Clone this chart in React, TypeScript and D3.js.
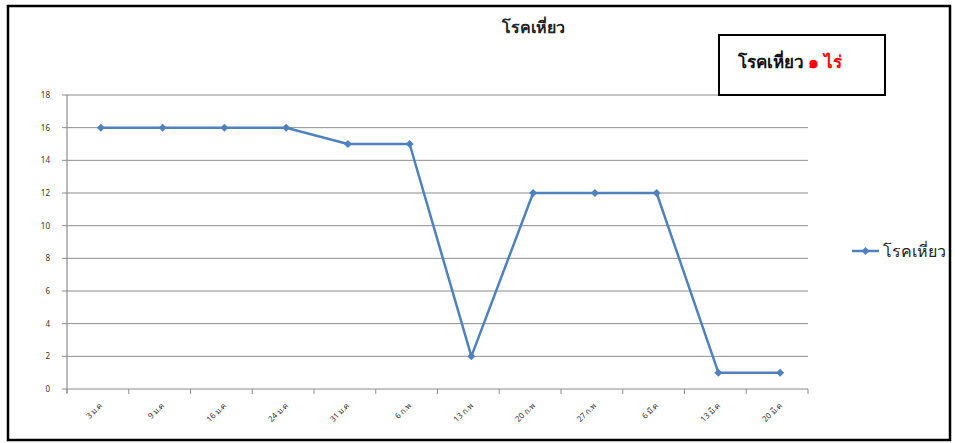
import React from "react";
import * as d3 from "d3";

const categories = ["3 ม.ค", "9 ม.ค", "16 ม.ค", "24 ม.ค", "31 ม.ค", "6 ก.พ", "13 ก.พ", "20 ก.พ", "27 ก.พ", "6 มี.ค", "13 มี.ค", "20 มี.ค"];
const values = [16, 16, 16, 16, 15, 15, 2, 12, 12, 12, 1, 1];
const yTicks = [0, 2, 4, 6, 8, 10, 12, 14, 16, 18];
const seriesName = "โรคเหี่ยว";

const W = 955;
const H = 443;
const plot = { left: 67, right: 808, top: 95, bottom: 389 };
const blue = "#4f81bd";

export default function App() {
  const x = d3.scaleBand().domain(categories).range([plot.left, plot.right]);
  const y = d3.scaleLinear().domain([0, 18]).range([plot.bottom, plot.top]);
  const cx = (c: string) => (x(c) as number) + x.bandwidth() / 2 + 3;
  const line = d3
    .line<number>()
    .x((_, i) => cx(categories[i]))
    .y((d) => y(d));
  // square turned 45deg, like the office diamond marker
  const marker = d3.symbol().type(d3.symbolSquare).size(32)();
  const tickXs = categories.map((c) => x(c) as number).concat([plot.right]);

  return (
    <svg width={W} height={H} style={{ position: "absolute", left: 0, top: 0 }} fontFamily="'Noto Sans', 'DejaVu Sans', sans-serif">
      <rect x={0} y={0} width={W} height={H} fill="#fff" />
      <rect x={8} y={6} width={942} height={434} fill="#fff" stroke="#000" strokeWidth={2.5} />

      <text x={533} y={33} textAnchor="middle" fontSize={16} fontWeight="bold" fill="#222">
        {seriesName}
      </text>

      {yTicks.map((t) => (
        <g key={t}>
          <line x1={plot.left} x2={plot.right} y1={y(t)} y2={y(t)} stroke="#8c8c8c" strokeWidth={1} />
          <line x1={plot.left - 5} x2={plot.left} y1={y(t)} y2={y(t)} stroke="#8c8c8c" strokeWidth={1} />
          <text x={50} y={y(t) + 3} textAnchor="end" fontSize={8} fill="#333">
            {t}
          </text>
        </g>
      ))}
      <line x1={plot.left} x2={plot.left} y1={plot.top} y2={plot.bottom + 4} stroke="#8c8c8c" strokeWidth={1.2} />
      {tickXs.map((tx, i) => (
        <line key={i} x1={tx} x2={tx} y1={plot.bottom} y2={plot.bottom + 5} stroke="#8c8c8c" strokeWidth={1} />
      ))}
      {categories.map((c) => (
        <g key={c} transform={`translate(${cx(c) + 2},${plot.bottom + 17})`}>
          <g transform="rotate(-45)">
            <text x={0} y={0} textAnchor="end" fontSize={8} fill="#333">
              {c}
            </text>
          </g>
        </g>
      ))}

      <path d={line(values) || ""} fill="none" stroke={blue} strokeWidth={2.5} strokeLinejoin="round" />
      {values.map((v, i) => (
        <path key={i} d={marker || ""} transform={`translate(${cx(categories[i])},${y(v)}) rotate(45)`} fill={blue} />
      ))}

      <rect x={719} y={35} width={166} height={60} fill="#fff" stroke="#000" strokeWidth={2} />
      <text x={738} y={68} fontSize={17} fontWeight="bold" fill="#111">
        {seriesName} <tspan fill="#ff0000">๑ ไร่</tspan>
      </text>

      <line x1={852} x2={879} y1={251} y2={251} stroke={blue} strokeWidth={2.5} />
      <path d={marker || ""} transform="translate(865.5,251) rotate(45)" fill={blue} />
      <text x={883} y={257} fontSize={16} fill="#222">
        {seriesName}
      </text>
    </svg>
  );
}
